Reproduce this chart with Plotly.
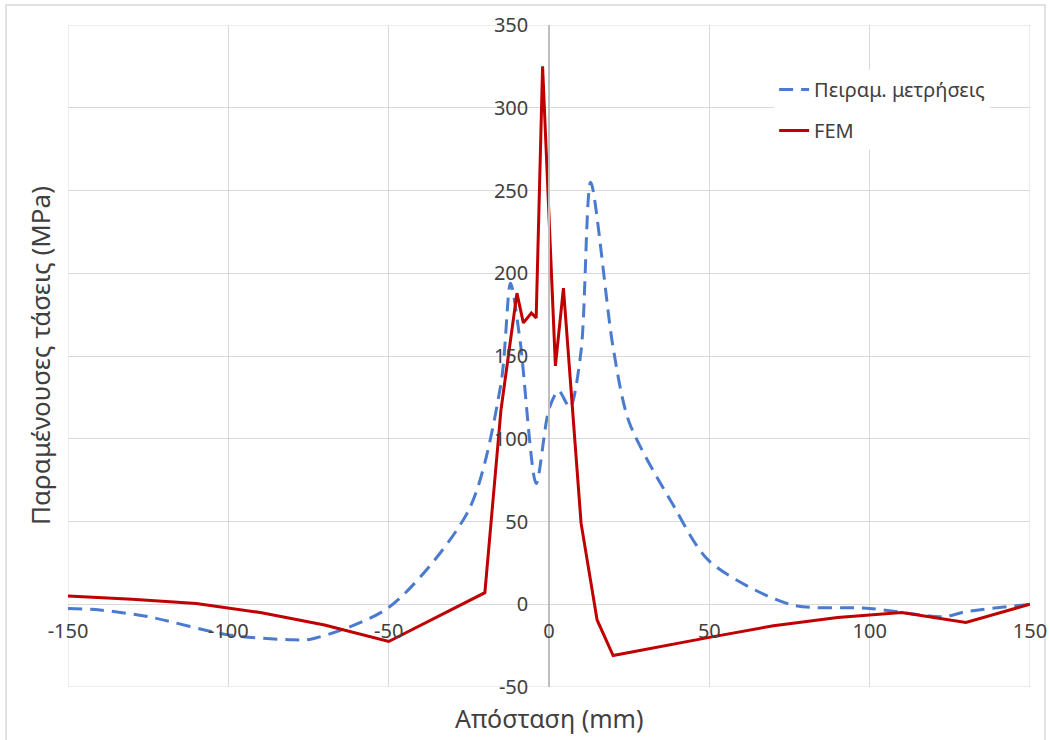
import plotly.graph_objects as go

# ---- data ----
x_exp = [-150, -140, -125, -100, -80, -74, -50, -25, -15, -12, -9, -4, 0, 3, 6.5, 10, 13, 20, 25, 39, 50, 75, 100, 123, 130, 150]
y_exp = [-2.5, -3.5, -7.5, -18.5, -21.5, -21, -2, 57, 133, 194, 159, 73, 118, 129, 119, 153, 255, 155, 110, 59, 26, 0, -2.5, -7.5, -4.5, 0]

x_fem = [-150, -130, -110, -90, -70, -50, -20, -15, -10, -8, -5.5, -4, -2, 2, 4.5, 10, 15, 20, 50, 70, 90, 110, 130, 150]
y_fem = [5, 3, 0.5, -5, -12.5, -22.5, 7, 117, 188, 170, 176, 173, 325, 144, 191, 49, -9.5, -31, -20, -13, -8, -5, -11, 0]

x_ticks = [-150, -100, -50, 0, 50, 100, 150]
y_ticks = [-50, 0, 50, 100, 150, 200, 250, 300, 350]

name_exp = "Πειραμ. μετρήσεις"
name_fem = "FEM"
x_title = "Απόσταση (mm)"
y_title = "Παραμένουσες τάσεις (MPa)"

FONT = "Noto Sans"
TXT = "#404040"
GRID = "#d9d9d9"

fig = go.Figure()
fig.add_trace(go.Scatter(
    x=x_exp, y=y_exp, mode="lines", name=name_exp, legendgroup="a",
    line=dict(color="#4a7bd0", width=3, dash="14px,8px", shape="spline", smoothing=0.8),
))
fig.add_trace(go.Scatter(
    x=x_fem, y=y_fem, mode="lines", name=name_fem, legendgroup="b",
    line=dict(color="#c00000", width=3),
))

# plot-area border and outer chart border
fig.add_shape(type="rect", xref="x", yref="y", x0=x_ticks[0], x1=x_ticks[-1],
              y0=y_ticks[0], y1=y_ticks[-1], line=dict(color=GRID, width=1), layer="below")
fig.add_shape(type="rect", xref="paper", yref="paper", x0=-0.0644, x1=1.0156,
              y0=-0.09, y1=1.0302, line=dict(color=GRID, width=1.5), layer="below")

fig.update_layout(
    width=1050, height=740,
    margin=dict(l=68, r=20, t=25, b=53),
    paper_bgcolor="white", plot_bgcolor="white",
    font=dict(family=FONT, color=TXT, size=20),
    showlegend=True,
    legend=dict(
        x=0.734, y=0.932, xanchor="left", yanchor="top",
        bgcolor="white", borderwidth=0,
        font=dict(family=FONT, size=20, color=TXT),
        itemwidth=30, tracegroupgap=12, traceorder="grouped",
    ),
    xaxis=dict(
        range=[x_ticks[0], x_ticks[-1]], tickvals=x_ticks,
        ticktext=[str(v) for v in x_ticks],
        showgrid=True, gridcolor=GRID, gridwidth=1,
        zeroline=False, showline=False,
        anchor="free", position=0.125,
        ticks="", ticklabelstandoff=13,
        tickfont=dict(family=FONT, size=20, color=TXT),
        automargin=False, domain=[0, 1],
    ),
    yaxis=dict(
        range=[y_ticks[0], y_ticks[-1]], tickvals=y_ticks,
        ticktext=[str(v) for v in y_ticks],
        showgrid=True, gridcolor=GRID, gridwidth=1,
        zeroline=False, showline=True, linecolor="#bfbfbf", linewidth=1.5,
        anchor="free", position=0.5,
        ticks="", ticklabelstandoff=16,
        tickfont=dict(family=FONT, size=20, color=TXT),
        automargin=False, domain=[0, 1],
    ),
    annotations=[
        dict(text=x_title, xref="paper", yref="paper", x=0.5, y=-0.047,
             xanchor="center", yanchor="middle", showarrow=False,
             font=dict(family=FONT, size=25, color=TXT)),
        dict(text=y_title, xref="paper", yref="paper", x=-0.029, y=0.5,
             xanchor="center", yanchor="middle", showarrow=False, textangle=-90,
             font=dict(family=FONT, size=26, color=TXT)),
    ],
)

fig.write_html("out.html")
